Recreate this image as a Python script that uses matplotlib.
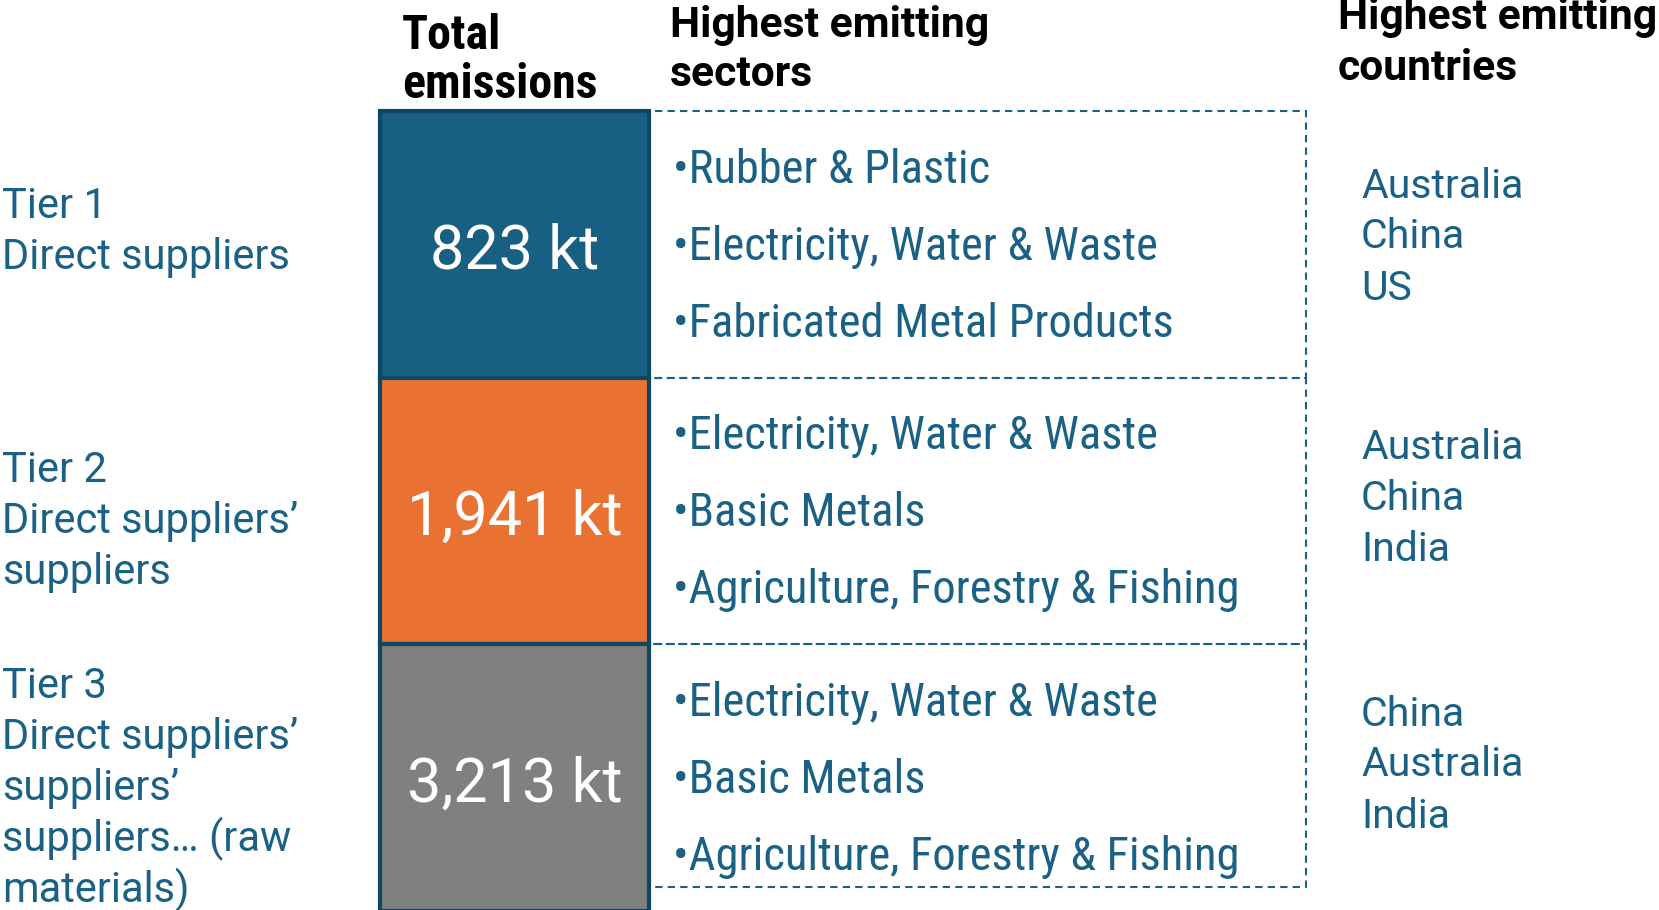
import matplotlib
matplotlib.use("Agg")
import matplotlib.pyplot as plt
from matplotlib.patches import Rectangle

# data
tiers = ["Tier 1", "Tier 2", "Tier 3"]
tier_desc = [
    ["Direct suppliers"],
    ["Direct suppliers’", "suppliers"],
    ["Direct suppliers’", "suppliers’", "suppliers… (raw", "materials)"],
]
emissions_kt = [823, 1941, 3213]
sectors = [
    ["Rubber & Plastic", "Electricity, Water & Waste", "Fabricated Metal Products"],
    ["Electricity, Water & Waste", "Basic Metals", "Agriculture, Forestry & Fishing"],
    ["Electricity, Water & Waste", "Basic Metals", "Agriculture, Forestry & Fishing"],
]
countries = [
    ["Australia", "China", "US"],
    ["Australia", "China", "India"],
    ["China", "Australia", "India"],
]
bar_colors = ["#176082", "#E97132", "#808080"]

BLUE = "#1A6185"
EDGE = "#0E4761"
W, H = 1659, 910
TOP, ROW = 111, 266.5
BAR_L, BAR_R = 380, 649
BOX_R, BOX_BOTTOM = 1306, 887
LINE = 51
LABEL_SHIFT = [-12, 11, 11]
COUNTRY_START = [75, 70, 70]

fig = plt.figure(figsize=(W / 100, H / 100), dpi=100)
ax = fig.add_axes([0, 0, 1, 1])
ax.set_xlim(0, W)
ax.set_ylim(H, 0)
ax.axis("off")

tops = [TOP + i * ROW for i in range(len(tiers))]

# dashed boxes behind the bars
for i, t in enumerate(tops):
    bottom = t + ROW if i < len(tiers) - 1 else BOX_BOTTOM
    ax.add_patch(Rectangle((BAR_L, t), BOX_R - BAR_L, bottom - t, fill=False,
                           edgecolor=BLUE, lw=1.5, linestyle=(0, (3.5, 2.5)), zorder=1))

ax.bar(x=(BAR_L + BAR_R) / 2, height=ROW, width=BAR_R - BAR_L, bottom=tops,
       color=bar_colors, edgecolor=EDGE, linewidth=3, zorder=2)

for i, t in enumerate(tops):
    mid = t + ROW / 2
    # total emissions
    ax.text((BAR_L + BAR_R) / 2, mid + 7, f"{emissions_kt[i]:,} kt", family="Roboto",
            color="white", fontsize=44, ha="center", va="center", zorder=3)
    # tier label on the left
    lines = [tiers[i]] + tier_desc[i]
    y0 = mid - (len(lines) - 1) * LINE / 2 + LABEL_SHIFT[i]
    for k, s in enumerate(lines):
        ax.text(2, y0 + k * LINE, s, family="Roboto", color=BLUE, fontsize=30,
                va="center", ha="left")
    # sectors
    for k, s in enumerate(sectors[i]):
        ax.text(673, t + 59 + k * 77, "•" + s, family="Roboto Condensed",
                color=BLUE, fontsize=33.5, va="center", ha="left")
    # countries
    for k, s in enumerate(countries[i]):
        ax.text(1361, t + COUNTRY_START[i] + k * LINE, s, family="Roboto",
                color=BLUE, fontsize=29.5, va="center", ha="left")

# column headers
ax.text(402, 36, "Total", family="Roboto Condensed", weight="bold",
        fontsize=34.5, va="center", ha="left")
ax.text(402, 85, "emissions", family="Roboto Condensed", weight="bold",
        fontsize=34.5, va="center", ha="left")
for x, y0, word in [(670, 25, "sectors"), (1338, 18, "countries")]:
    ax.text(x, y0, "Highest emitting", family="Roboto", weight="bold",
            fontsize=30.7, va="center", ha="left")
    ax.text(x, y0 + 50, word, family="Roboto", weight="bold",
            fontsize=30.7, va="center", ha="left")

fig.savefig("out.png", dpi=100)
